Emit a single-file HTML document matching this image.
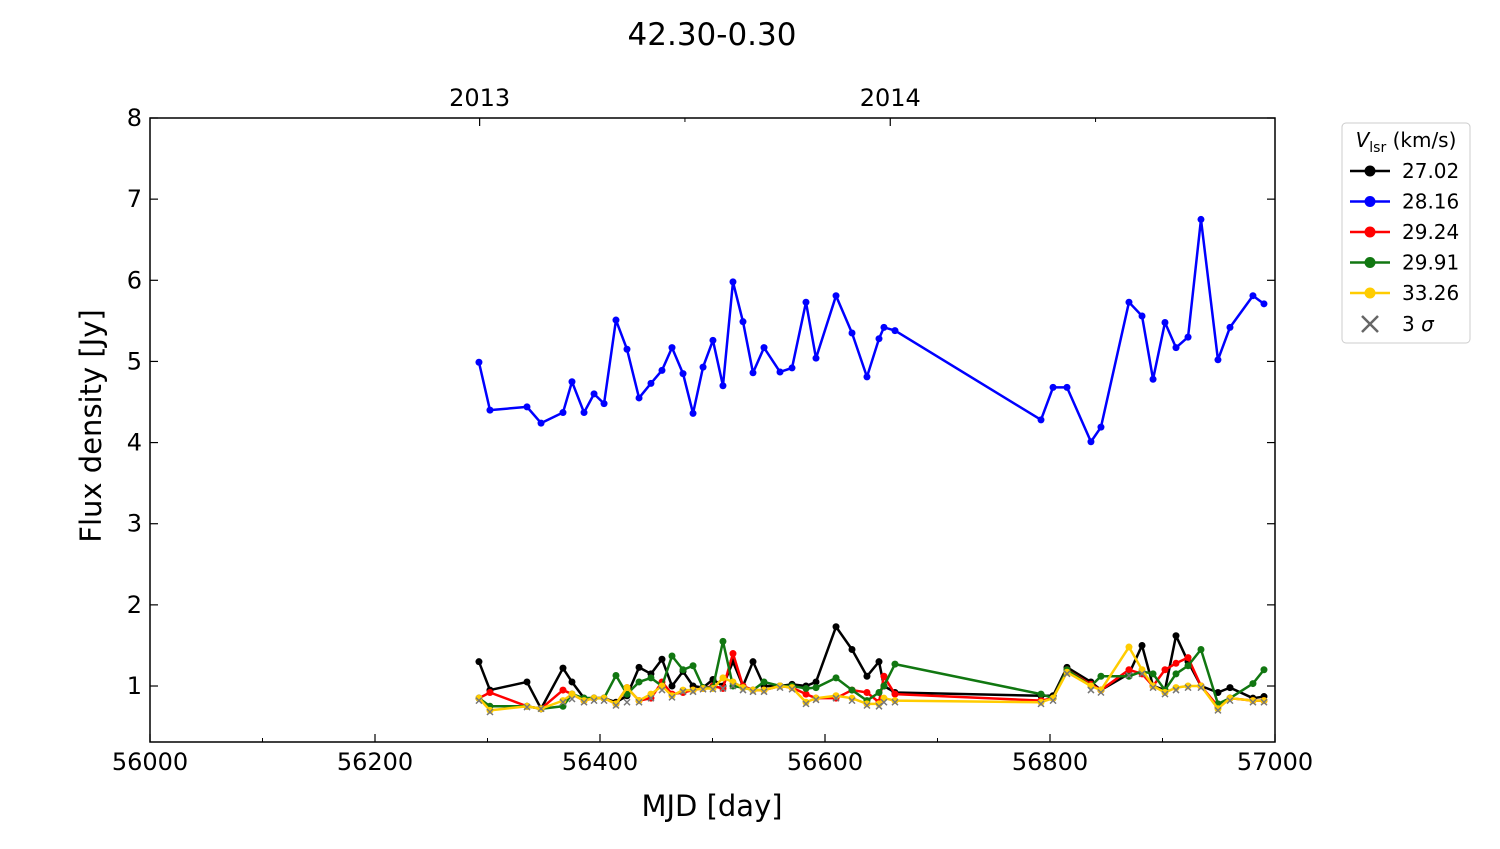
<!DOCTYPE html>
<html><head><meta charset="utf-8"><style>
body{margin:0;background:#fff;font-family:"Liberation Sans","DejaVu Sans",sans-serif}
svg text{font-family:"DejaVu Sans","Liberation Sans",sans-serif}
</style></head><body>
<svg id="chart" width="1500" height="844" xmlns="http://www.w3.org/2000/svg">
<text x="712" y="45" font-size="31" text-anchor="middle">42.30-0.30</text>
<g id="plot"></g>
<text x="712" y="816" font-size="29" text-anchor="middle">MJD [day]</text>
<text transform="translate(101,426) rotate(-90)" font-size="29" text-anchor="middle">Flux density [Jy]</text>
<g>
<rect x="1342" y="123" width="128" height="220" rx="4" fill="#fff" stroke="#ccc"/>
<text x="1406" y="147" font-size="20" text-anchor="middle"><tspan font-style="italic">V</tspan><tspan font-size="14" dy="5">lsr</tspan><tspan dy="-5"> (km/s)</tspan></text>
<g id="legend-entries"></g>
</g>
</svg>
<script>
const mjd=[56292.4,56302.2,56335.1,56347.6,56367.1,56375.1,56385.8,56394.7,56403.6,56414.2,56424,56434.7,56445.3,56455.1,56464,56473.8,56482.7,56491.6,56500.4,56509.3,56518.2,56527.1,56536,56545.8,56560,56570.7,56583.1,56592,56609.8,56624,56637.3,56648,56652.4,56662.2,56792,56802.7,56815.1,56836.4,56845.3,56870.2,56881.8,56891.6,56902.2,56912,56922.7,56934.2,56949.3,56960,56980.4,56990.2];
const v2702=[1.30,0.95,1.05,0.72,1.22,1.05,0.85,0.85,0.85,0.80,0.88,1.23,1.15,1.33,1.0,1.18,1.0,0.98,1.08,1.0,1.3,1.0,1.3,1.0,1.0,1.02,1.0,1.05,1.73,1.45,1.12,1.3,1.0,0.92,0.88,0.88,1.23,1.05,0.95,1.15,1.5,1.0,0.95,1.62,1.3,1.0,0.92,0.98,0.85,0.87];
const v2816=[4.99,4.40,4.44,4.24,4.37,4.75,4.37,4.60,4.48,5.51,5.15,4.55,4.73,4.89,5.17,4.85,4.36,4.93,5.26,4.70,5.98,5.49,4.86,5.17,4.87,4.92,5.73,5.04,5.81,5.35,4.81,5.28,5.42,5.38,4.28,4.68,4.68,4.01,4.19,5.73,5.56,4.78,5.48,5.17,5.30,6.75,5.02,5.42,5.81,5.71];
const v2924=[0.85,0.92,0.75,0.72,0.95,0.9,0.82,0.85,0.85,0.78,0.98,0.82,0.85,1.05,0.9,0.92,0.95,0.97,1.0,0.97,1.4,1.0,0.95,0.95,1.0,0.98,0.9,0.85,0.85,0.95,0.92,0.8,1.12,0.9,0.82,0.85,1.2,1.02,0.95,1.2,1.15,1.0,1.2,1.28,1.35,1.0,0.75,0.85,0.82,0.82];
const v2991=[0.85,0.75,0.75,0.72,0.75,0.9,0.85,0.85,0.85,1.13,0.9,1.05,1.1,1.0,1.37,1.2,1.25,0.98,0.98,1.55,1.0,0.98,0.95,1.05,1.0,1.0,0.97,0.98,1.1,0.95,0.82,0.92,1.0,1.27,0.9,0.85,1.2,1.0,1.12,1.12,1.18,1.15,0.95,1.15,1.25,1.45,0.78,0.85,1.03,1.2];
const v3326=[0.85,0.70,0.75,0.72,0.82,0.9,0.82,0.85,0.85,0.78,0.98,0.82,0.9,1.0,0.88,0.95,0.95,0.97,0.97,1.1,1.05,0.98,0.95,0.95,1.0,0.98,0.8,0.85,0.88,0.85,0.78,0.78,0.85,0.82,0.8,0.85,1.17,1.0,0.95,1.48,1.2,1.0,0.92,0.98,1.0,1.0,0.72,0.85,0.82,0.82];
const sigma=[0.82,0.68,0.74,0.72,0.80,0.84,0.80,0.82,0.82,0.76,0.80,0.80,0.85,0.95,0.86,0.93,0.93,0.96,0.96,0.97,1.0,0.95,0.93,0.93,0.98,0.96,0.78,0.83,0.85,0.82,0.76,0.75,0.80,0.80,0.78,0.82,1.15,0.95,0.92,1.13,1.15,0.98,0.90,0.95,0.98,0.98,0.70,0.82,0.80,0.80];
const xTicks=[56000,56200,56400,56600,56800,57000];
const yTicks=[1,2,3,4,5,6,7,8];
const yearLabels=["2013","2014"];
const yearMjd=[56293,56658];
const seriesNames=["27.02","28.16","29.24","29.91","33.26"];
const seriesColors=["#000000","#0000ff","#ff0000","#117711","#ffcc00"];
const seriesData=[v2702,v2816,v2924,v2991,v3326];

const L=150,R=1275,T=118,B=742,X0=56000,X1=57000,Y0=0.31,Y1=8;
const sx=m=>L+(m-X0)/(X1-X0)*(R-L);
const sy=v=>B-(v-Y0)/(Y1-Y0)*(B-T);
const NS="http://www.w3.org/2000/svg";
const g=document.getElementById('plot');
function mk(tag,attrs,parent){const e=document.createElementNS(NS,tag);for(const k in attrs)e.setAttribute(k,attrs[k]);(parent||g).appendChild(e);return e;}
xTicks.forEach(t=>{const x=sx(t);
 const tk=mk('line',{x1:x,x2:x,y1:B,y2:B-8,stroke:'#000','stroke-width':1.2});
 
 
 const tx=mk('text',{x:x,y:B+28,'font-size':24,'text-anchor':'middle'});tx.textContent=t;
 
 
});
for(let t=X0+100;t<X1;t+=200){const x=sx(t);mk('line',{x1:x,x2:x,y1:B,y2:B-4,stroke:'#000'});}
yTicks.forEach(t=>{const y=sy(t);
 mk('line',{x1:L,x2:L+8,y1:y,y2:y,stroke:'#000','stroke-width':1.2});
 mk('line',{x1:R,x2:R-8,y1:y,y2:y,stroke:'#000','stroke-width':1.2});
 const tx=mk('text',{x:L-8,y:y+8,'font-size':24,'text-anchor':'end'});tx.textContent=t;
 
 
});
yearMjd.forEach((m,i)=>{const x=sx(m);
 mk('line',{x1:x,x2:x,y1:T,y2:T+8,stroke:'#000','stroke-width':1.2});
 const tx=mk('text',{x:x,y:T-12,'font-size':24,'text-anchor':'middle'});tx.textContent=yearLabels[i];
 
 
 const hx=sx(m+182.5);if(hx<R)mk('line',{x1:hx,x2:hx,y1:T,y2:T+4,stroke:'#000'});
});
seriesData.forEach((arr,si)=>{
 const c=seriesColors[si];
 const pl=mk('polyline',{points:arr.map((v,i)=>sx(mjd[i])+','+sy(v)).join(' '),fill:'none',stroke:c,'stroke-width':2.5,'stroke-linejoin':'round'});
 
 
 arr.forEach((v,i)=>{const p=mk('circle',{cx:sx(mjd[i]),cy:sy(v),r:3.5,fill:c});
  
  });
});
sigma.forEach((v,i)=>{const x=sx(mjd[i]),y=sy(v),d=3;
 const p=mk('path',{d:`M${x-d},${y-d}L${x+d},${y+d}M${x-d},${y+d}L${x+d},${y-d}`,stroke:'#777','stroke-width':1.5});
 
 
});
mk('rect',{x:L,y:T,width:R-L,height:B-T,fill:'none',stroke:'#000','stroke-width':1.5});
const lg=document.getElementById('legend-entries');
seriesNames.forEach((n,i)=>{const y=171+i*30.5;
 mk('line',{x1:1350,x2:1390,y1:y,y2:y,stroke:seriesColors[i],'stroke-width':2.5},lg);
 mk('circle',{cx:1370,cy:y,r:5.5,fill:seriesColors[i]},lg);
 const t=mk('text',{x:1402,y:y+7,'font-size':20},lg);t.textContent=n;
 
 
});
{const y=324;mk('path',{d:`M1362,${y-8}L1378,${y+8}M1362,${y+8}L1378,${y-8}`,stroke:'#666','stroke-width':2.5},lg);
 const t=mk('text',{x:1402,y:y+7,'font-size':20},lg);t.innerHTML='3 <tspan font-style="italic">σ</tspan>';
 
 }
</script>
</body></html>
